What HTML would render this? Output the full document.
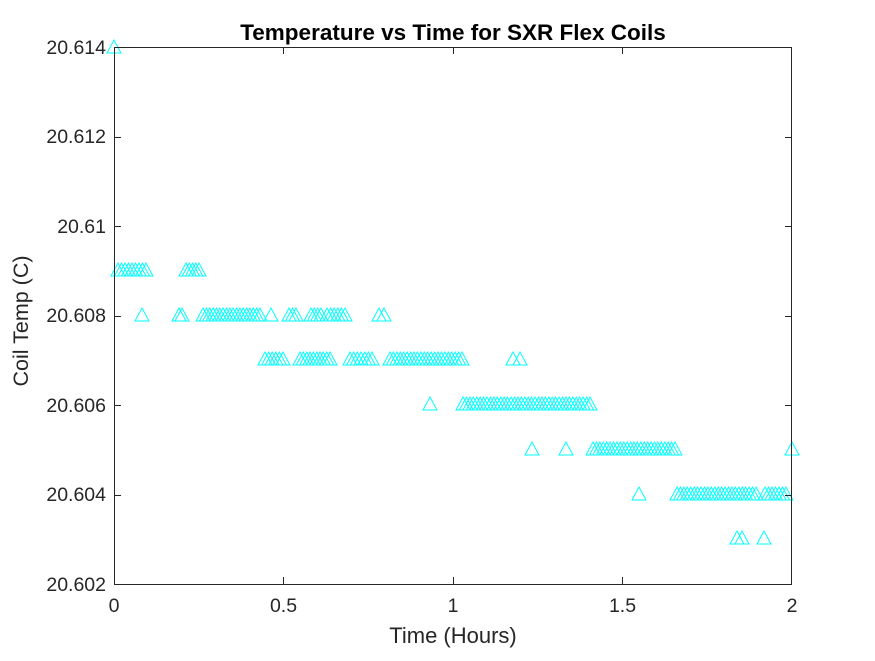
<!DOCTYPE html>
<html><head><style>body{margin:0;background:#fff}</style></head><body>
<svg width="875" height="656" xmlns="http://www.w3.org/2000/svg" font-family="Liberation Sans, Arial, sans-serif">
<rect width="875" height="656" fill="#fff"/>
<defs><path id="m" d="M-7,6h14l-7,-13z" fill="none" stroke="#00ffff" stroke-width="1"/></defs>
<g>
<use href="#m" x="114" y="47"/>
<g transform="translate(0,270)">
<use href="#m" x="118"/><use href="#m" x="121.5"/><use href="#m" x="125"/><use href="#m" x="128.5"/><use href="#m" x="132"/><use href="#m" x="135.5"/><use href="#m" x="139"/><use href="#m" x="142.5"/><use href="#m" x="146"/>
<use href="#m" x="186"/><use href="#m" x="189.3"/><use href="#m" x="192.5"/><use href="#m" x="195.8"/><use href="#m" x="199"/>
</g>
<g transform="translate(0,315)">
<use href="#m" x="142"/><use href="#m" x="179"/><use href="#m" x="182"/>
<use href="#m" x="203"/><use href="#m" x="206.4"/><use href="#m" x="209.7"/><use href="#m" x="213.1"/><use href="#m" x="216.4"/><use href="#m" x="219.8"/><use href="#m" x="223.1"/><use href="#m" x="226.5"/><use href="#m" x="229.8"/><use href="#m" x="233.2"/><use href="#m" x="236.5"/><use href="#m" x="239.9"/><use href="#m" x="243.2"/><use href="#m" x="246.6"/><use href="#m" x="249.9"/><use href="#m" x="253.3"/><use href="#m" x="256.6"/><use href="#m" x="260"/>
<use href="#m" x="271"/><use href="#m" x="289"/><use href="#m" x="292.5"/><use href="#m" x="296"/>
<use href="#m" x="311"/><use href="#m" x="314.3"/><use href="#m" x="317.7"/><use href="#m" x="321"/>
<use href="#m" x="327"/><use href="#m" x="330.6"/><use href="#m" x="334.2"/><use href="#m" x="337.8"/><use href="#m" x="341.4"/><use href="#m" x="345"/>
<use href="#m" x="379"/><use href="#m" x="384"/>
</g>
<g transform="translate(0,359)">
<use href="#m" x="265"/><use href="#m" x="268.6"/><use href="#m" x="272.2"/><use href="#m" x="275.8"/><use href="#m" x="279.4"/><use href="#m" x="283"/>
<use href="#m" x="300"/><use href="#m" x="303.3"/><use href="#m" x="306.7"/><use href="#m" x="310"/><use href="#m" x="313.3"/><use href="#m" x="316.7"/><use href="#m" x="320"/><use href="#m" x="323.3"/><use href="#m" x="326.7"/><use href="#m" x="330"/>
<use href="#m" x="350"/><use href="#m" x="353.7"/><use href="#m" x="357.3"/><use href="#m" x="361"/><use href="#m" x="364.7"/><use href="#m" x="368.3"/><use href="#m" x="372"/>
<use href="#m" x="390"/><use href="#m" x="393.4"/><use href="#m" x="396.9"/><use href="#m" x="400.3"/><use href="#m" x="403.7"/><use href="#m" x="407.1"/><use href="#m" x="410.6"/><use href="#m" x="414"/><use href="#m" x="417.4"/><use href="#m" x="420.9"/><use href="#m" x="424.3"/><use href="#m" x="427.7"/><use href="#m" x="431.1"/><use href="#m" x="434.6"/><use href="#m" x="438"/><use href="#m" x="441.4"/><use href="#m" x="444.9"/><use href="#m" x="448.3"/><use href="#m" x="451.7"/><use href="#m" x="455.1"/><use href="#m" x="458.6"/><use href="#m" x="462"/>
<use href="#m" x="513"/><use href="#m" x="520"/>
</g>
<g transform="translate(0,404)">
<use href="#m" x="430"/>
<use href="#m" x="463"/><use href="#m" x="466.4"/><use href="#m" x="469.9"/><use href="#m" x="473.3"/><use href="#m" x="476.7"/><use href="#m" x="480.2"/><use href="#m" x="483.6"/><use href="#m" x="487"/><use href="#m" x="490.5"/><use href="#m" x="493.9"/><use href="#m" x="497.3"/><use href="#m" x="500.8"/><use href="#m" x="504.2"/><use href="#m" x="507.6"/><use href="#m" x="511.1"/><use href="#m" x="514.5"/><use href="#m" x="517.9"/><use href="#m" x="521.4"/><use href="#m" x="524.8"/><use href="#m" x="528.2"/><use href="#m" x="531.6"/><use href="#m" x="535.1"/><use href="#m" x="538.5"/><use href="#m" x="541.9"/><use href="#m" x="545.4"/><use href="#m" x="548.8"/><use href="#m" x="552.2"/><use href="#m" x="555.7"/><use href="#m" x="559.1"/><use href="#m" x="562.5"/><use href="#m" x="566"/><use href="#m" x="569.4"/><use href="#m" x="572.8"/><use href="#m" x="576.3"/><use href="#m" x="579.7"/><use href="#m" x="583.1"/><use href="#m" x="586.6"/><use href="#m" x="590"/>
</g>
<g transform="translate(0,449)">
<use href="#m" x="532"/><use href="#m" x="566"/>
<use href="#m" x="593"/><use href="#m" x="596.4"/><use href="#m" x="599.8"/><use href="#m" x="603.3"/><use href="#m" x="606.7"/><use href="#m" x="610.1"/><use href="#m" x="613.5"/><use href="#m" x="616.9"/><use href="#m" x="620.3"/><use href="#m" x="623.8"/><use href="#m" x="627.2"/><use href="#m" x="630.6"/><use href="#m" x="634"/><use href="#m" x="637.4"/><use href="#m" x="640.8"/><use href="#m" x="644.3"/><use href="#m" x="647.7"/><use href="#m" x="651.1"/><use href="#m" x="654.5"/><use href="#m" x="657.9"/><use href="#m" x="661.3"/><use href="#m" x="664.8"/><use href="#m" x="668.2"/><use href="#m" x="671.6"/><use href="#m" x="675"/>
<use href="#m" x="792"/>
</g>
<g transform="translate(0,494)">
<use href="#m" x="639"/>
<use href="#m" x="677"/><use href="#m" x="680.4"/><use href="#m" x="683.9"/><use href="#m" x="687.3"/><use href="#m" x="690.7"/><use href="#m" x="694.2"/><use href="#m" x="697.6"/><use href="#m" x="701"/><use href="#m" x="704.5"/><use href="#m" x="707.9"/><use href="#m" x="711.3"/><use href="#m" x="714.8"/><use href="#m" x="718.2"/><use href="#m" x="721.6"/><use href="#m" x="725.1"/><use href="#m" x="728.5"/><use href="#m" x="731.9"/><use href="#m" x="735.3"/><use href="#m" x="738.8"/><use href="#m" x="742.2"/><use href="#m" x="745.6"/><use href="#m" x="749.1"/><use href="#m" x="752.5"/><use href="#m" x="756"/>
<use href="#m" x="765"/><use href="#m" x="768.5"/><use href="#m" x="772"/><use href="#m" x="775.5"/><use href="#m" x="779"/><use href="#m" x="782.5"/><use href="#m" x="786"/>
</g>
<g transform="translate(0,538)">
<use href="#m" x="737"/><use href="#m" x="742"/><use href="#m" x="764"/>
</g>
</g>
<g stroke="#262626" stroke-width="1" fill="none">
<rect x="114.5" y="47.5" width="677" height="537"/>
<path d="M114,137.5h7M114,226.5h7M114,316.5h7M114,405.5h7M114,495.5h7M785,137.5h7M785,226.5h7M785,316.5h7M785,405.5h7M785,495.5h7M283.5,584v-7M453.5,584v-7M622.5,584v-7M283.5,47v7M453.5,47v7M622.5,47v7"/>
</g>
<g font-size="19.5" fill="#262626">
<text x="106" y="591" text-anchor="end">20.602</text>
<text x="106" y="501" text-anchor="end">20.604</text>
<text x="106" y="412" text-anchor="end">20.606</text>
<text x="106" y="322" text-anchor="end">20.608</text>
<text x="106" y="233" text-anchor="end">20.61</text>
<text x="106" y="143" text-anchor="end">20.612</text>
<text x="106" y="54" text-anchor="end">20.614</text>
<text x="114" y="612" text-anchor="middle">0</text>
<text x="283.5" y="612" text-anchor="middle">0.5</text>
<text x="453" y="612" text-anchor="middle">1</text>
<text x="622.5" y="612" text-anchor="middle">1.5</text>
<text x="792" y="612" text-anchor="middle">2</text>
<text x="453" y="643" text-anchor="middle" font-size="22">Time (Hours)</text>
<text transform="translate(28,321) rotate(-90)" text-anchor="middle" font-size="21.5">Coil Temp (C)</text>
<text x="453" y="40" text-anchor="middle" font-size="22.5" font-weight="bold" fill="#000">Temperature vs Time for SXR Flex Coils</text>
</g>
</svg>
</body></html>
